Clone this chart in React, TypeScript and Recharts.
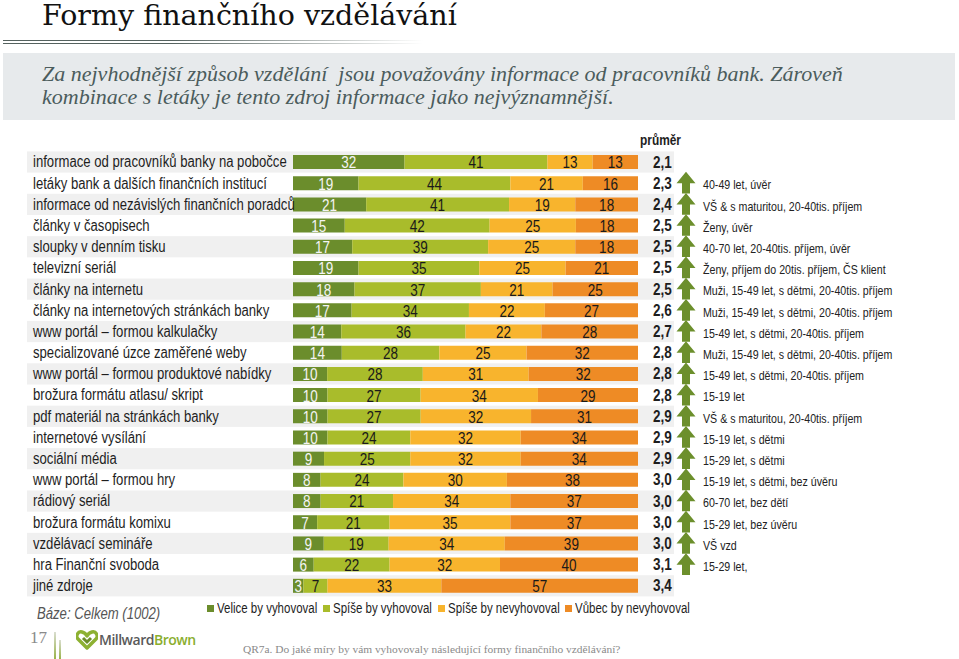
import React from "react"
import { BarChart, Bar, XAxis, YAxis, LabelList, Legend } from "recharts"

// no narrow font installed: Liberation Sans squeezed horizontally stands in for Arial Narrow
const SANS = '"Liberation Sans", Arial, sans-serif'
const SQUEEZE = 0.82
const SERIF = '"DejaVu Serif", Georgia, "Liberation Serif", serif'

const categories = [
  "informace od pracovníků banky na pobočce",
  "letáky bank a dalších finančních institucí",
  "informace od nezávislých finančních poradců",
  "články v časopisech",
  "sloupky v denním tisku",
  "televizní seriál",
  "články na internetu",
  "články na internetových stránkách banky",
  "www portál – formou kalkulačky",
  "specializované úzce zaměřené weby",
  "www portál – formou produktové nabídky",
  "brožura formátu atlasu/ skript",
  "pdf materiál na stránkách banky",
  "internetové vysílání",
  "sociální média",
  "www portál – formou hry",
  "rádiový seriál",
  "brožura formátu komixu",
  "vzdělávací semináře",
  "hra Finanční svoboda",
  "jiné zdroje",
]

const velice = [32, 19, 21, 15, 17, 19, 18, 17, 14, 14, 10, 10, 10, 10, 9, 8, 8, 7, 9, 6, 3]
const spise = [41, 44, 41, 42, 39, 35, 37, 34, 36, 28, 28, 27, 27, 24, 25, 24, 21, 21, 19, 22, 7]
const spiseNe = [13, 21, 19, 25, 25, 25, 21, 22, 22, 25, 31, 34, 32, 32, 32, 30, 34, 35, 34, 32, 33]
const vubec = [13, 16, 18, 18, 18, 21, 25, 27, 28, 32, 32, 29, 31, 34, 34, 38, 37, 37, 39, 40, 57]

const means = ["2,1", "2,3", "2,4", "2,5", "2,5", "2,5", "2,5", "2,6", "2,7", "2,8", "2,8", "2,8", "2,9", "2,9", "2,9", "3,0", "3,0", "3,0", "3,0", "3,1", "3,4"]
const notes = [
  "",
  "40-49 let, úvěr",
  "VŠ & s maturitou, 20-40tis. příjem",
  "Ženy, úvěr",
  "40-70 let, 20-40tis. příjem, úvěr",
  "Ženy, příjem do 20tis. příjem, ČS klient",
  "Muži, 15-49 let, s dětmi, 20-40tis. příjem",
  "Muži, 15-49 let, s dětmi, 20-40tis. příjem",
  "15-49 let, s dětmi, 20-40tis. příjem",
  "Muži, 15-49 let, s dětmi, 20-40tis. příjem",
  "15-49 let, s dětmi, 20-40tis. příjem",
  "15-19 let",
  "VŠ & s maturitou, 20-40tis. příjem",
  "15-19 let, s dětmi",
  "15-29 let, s dětmi",
  "15-19 let, s dětmi, bez úvěru",
  "60-70 let, bez dětí",
  "15-29 let, bez úvěru",
  "VŠ vzd",
  "15-29 let,",
  "",
]
const arrows = [false, true, true, true, true, true, true, true, true, true, true, true, true, true, true, true, true, true, true, true, false]

const seriesNames = ["Velice by vyhovoval", "Spíše by vyhovoval", "Spíše by nevyhovoval", "Vůbec by nevyhovoval"]
const colors = ["#6b8d2c", "#a9bc2b", "#f8b42d", "#ee8b25"]

const data = categories.map((name, i) => ({
  name,
  velice: velice[i],
  spise: spise[i],
  spiseNe: spiseNe[i],
  vubec: vubec[i],
  mean: means[i],
  note: notes[i],
  arrow: arrows[i],
}))

const ROW = 21.2
const ARROW_GREEN = "#6c8f2c"

// svg text squeezed around its anchor point
function NText({ x, y, children, ...rest }: any) {
  return (
    <text transform={`translate(${x},${y}) scale(${SQUEEZE},1)`} x={0} y={0} dy="0.36em" fontFamily={SANS} {...rest}>
      {children}
    </text>
  )
}

function Narrow({ children, style }: any) {
  return (
    <span style={{ display: "inline-block", transform: `scaleX(${SQUEEZE})`, transformOrigin: "left center", whiteSpace: "nowrap", fontFamily: SANS, ...style }}>
      {children}
    </span>
  )
}

function RowBand(props: any) {
  const { x, y, width, height, index } = props
  if (index % 2 !== 0) return <g />
  const cy = y + height / 2
  return <rect x={x - 266} y={cy - ROW / 2} width={width + 302} height={ROW} fill="#f0f0f0" />
}

function LeftTick(props: any) {
  const { x, y, payload } = props
  return (
    <NText x={x - 260} y={y} textAnchor="start" fontSize={16} fill="#1e1e1e">
      {payload.value}
    </NText>
  )
}

function RightTick(props: any) {
  const { x, y, index } = props
  const row = data[index]
  if (!row) return <g />
  const cx = x + 48
  return (
    <g>
      <NText x={x + 15} y={y} fontWeight="bold" fontSize={16.5} fill="#1e1e1e">
        {row.mean}
      </NText>
      {row.arrow && (
        <path
          d={`M${cx},${y - 11} L${cx + 9.5},${y + 0.5} L${cx + 4},${y + 0.5} L${cx + 4},${y + ROW - 10.5} L${cx - 4},${y + ROW - 10.5} L${cx - 4},${y + 0.5} L${cx - 9.5},${y + 0.5} Z`}
          fill={ARROW_GREEN}
        />
      )}
      {row.note && (
        <NText x={x + 65} y={y + 2} fontSize={13} fill="#222">
          {row.note}
        </NText>
      )}
    </g>
  )
}

const barLabel = (fill: string) => (p: any) => {
  const { x, y, width, height, value } = p
  return (
    <NText key={`${x}-${y}`} x={x + width / 2} y={y + height / 2 + 0.5} textAnchor="middle" fontSize={16.5} fill={fill}>
      {value}
    </NText>
  )
}

function LegendContent() {
  return (
    <div style={{ display: "flex", gap: 5, fontSize: 14, color: "#1e1e1e" }}>
      {seriesNames.map((n, i) => (
        <div key={n} style={{ display: "flex", alignItems: "center" }}>
          <span style={{ width: 7, height: 7, background: colors[i], display: "inline-block", marginRight: 3 }} />
          <span style={{ display: "inline-block", width: [101, 100, 112, 116][i] }}>
            <Narrow>{n}</Narrow>
          </span>
        </div>
      ))}
    </div>
  )
}

export default function App() {
  const keys = ["velice", "spise", "spiseNe", "vubec"]
  return (
    <div style={{ position: "absolute", left: 0, top: 0, width: 959, height: 659, background: "#fff", overflow: "hidden" }}>
      {/* title */}
      <div style={{ position: "absolute", left: 42, top: -1, fontFamily: SERIF, fontSize: 28.5, color: "#111", whiteSpace: "nowrap" }}>
        Formy finančního vzdělávání
      </div>
      <div style={{ position: "absolute", left: 3, top: 40, width: 420, height: 1, background: "linear-gradient(to right, #55625f, #55625f 40%, rgba(85,98,95,0))" }} />
      <div style={{ position: "absolute", left: 3, top: 43, width: 420, height: 1, background: "linear-gradient(to right, #55625f, #55625f 40%, rgba(85,98,95,0))" }} />

      {/* subtitle box */}
      <div style={{ position: "absolute", left: 3, top: 53, width: 952, height: 67, background: "#e7eaec" }} />
      <div
        style={{
          position: "absolute",
          left: 42,
          top: 62,
          fontFamily: '"Liberation Serif", serif',
          fontStyle: "italic",
          fontSize: 22,
          lineHeight: "23px",
          color: "#4b5c5c",
          whiteSpace: "pre",
        }}
      >
        {"Za nejvhodnější způsob vzdělání  jsou považovány informace od pracovníků bank. Zároveň\nkombinace s letáky je tento zdroj informace jako nejvýznamnější."}
      </div>

      <div style={{ position: "absolute", left: 640, top: 132, fontWeight: "bold", fontSize: 14.5, color: "#1e1e1e" }}>
        <Narrow>průměr</Narrow>
      </div>

      <div style={{ position: "absolute", left: 0, top: 0 }}>
        <BarChart
          width={959}
          height={659}
          data={data}
          layout="vertical"
          stackOffset="expand"
          barSize={14}
          margin={{ top: 151, right: 0, bottom: 63, left: 27 }}
        >
          <XAxis type="number" hide domain={[0, 1]} />
          {keys.map((k, i) => (
            <Bar
              key={k}
              dataKey={k}
              name={seriesNames[i]}
              stackId="a"
              yAxisId="left"
              fill={colors[i]}
              isAnimationActive={false}
              background={i === 0 ? (p: any) => <RowBand {...p} /> : undefined}
            >
              <LabelList dataKey={k} content={barLabel(i === 0 ? "#f4f4f4" : "#1a1a1a")} />
            </Bar>
          ))}
          <YAxis
            yAxisId="left"
            type="category"
            dataKey="name"
            width={266}
            tickSize={0}
            tickMargin={0}
            axisLine={false}
            tickLine={false}
            interval={0}
            tick={<LeftTick />}
          />
          <YAxis
            yAxisId="right"
            orientation="right"
            type="category"
            dataKey="name"
            width={321}
            tickSize={0}
            tickMargin={0}
            axisLine={false}
            tickLine={false}
            interval={0}
            tick={<RightTick />}
          />
          <Legend
            layout="horizontal"
            verticalAlign="middle"
            align="center"
            content={<LegendContent />}
            wrapperStyle={{ left: 207, top: 600, width: "auto", height: "auto" }}
          />
        </BarChart>
      </div>

      {/* base note */}
      <div style={{ position: "absolute", left: 37, top: 605, fontStyle: "italic", fontSize: 16, color: "#555" }}>
        <Narrow>Báze: Celkem (1002)</Narrow>
      </div>

      {/* footer */}
      <div style={{ position: "absolute", left: 30, top: 628, fontFamily: '"Liberation Serif", serif', fontSize: 17, color: "#8a8a8a" }}>17</div>
      <div style={{ position: "absolute", left: 54, top: 632, width: 2, height: 27, background: "linear-gradient(#d9ddd0, #9ab34a)" }} />
      <div style={{ position: "absolute", left: 59, top: 640, width: 2, height: 19, background: "linear-gradient(#d9ddd0, #9ab34a)" }} />
      <svg style={{ position: "absolute", left: 76, top: 630 }} width={22} height={20} viewBox="0 0 22 20">
        <path d="M11 18 L2 9 C-1 6 2 1 6 2 C8 2.5 10 4 11 6 C12 4 14 2.5 16 2 C20 1 23 6 20 9 Z" fill="none" stroke="#8db132" strokeWidth={3.5} strokeLinejoin="round" />
        <path d="M7 8 L11 12 L15 8" fill="none" stroke="#6d8f28" strokeWidth={3} />
      </svg>
      <div style={{ position: "absolute", left: 99, top: 630, fontFamily: '"Open Sans", sans-serif', fontWeight: 600, fontSize: 14, letterSpacing: -0.5, whiteSpace: "nowrap" }}>
        <span style={{ color: "#5a5a5a" }}>Millward</span>
        <span style={{ color: "#8aae2e" }}>Brown</span>
      </div>
      <div style={{ position: "absolute", left: 243, top: 643, fontFamily: '"Liberation Serif", serif', fontSize: 11.4, color: "#8a8a8a", whiteSpace: "nowrap" }}>
        QR7a. Do jaké míry by vám vyhovovaly následující formy finančního vzdělávání?
      </div>
    </div>
  )
}
